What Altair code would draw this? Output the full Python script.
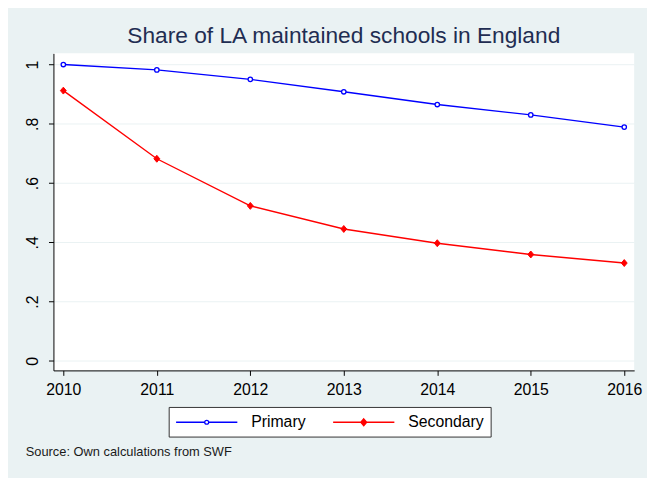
import altair as alt
import pandas as pd

# ---- data ----
years = [2010, 2011, 2012, 2013, 2014, 2015, 2016]
primary = [1.000, 0.982, 0.950, 0.908, 0.865, 0.830, 0.789]
secondary = [0.912, 0.682, 0.523, 0.445, 0.397, 0.359, 0.330]
series = ["Primary", "Secondary"]
colors = ["#0000FF", "#FF0000"]
y_ticks = [0, 0.2, 0.4, 0.6, 0.8, 1.0]
title_text = "Share of LA maintained schools in England"
source_note = "Source: Own calculations from SWF"

rows = []
for yr, v in zip(years, primary):
    rows.append({"year": yr, "share": v, "type": series[0]})
for yr, v in zip(years, secondary):
    rows.append({"year": yr, "share": v, "type": series[1]})
df = pd.DataFrame(rows)

FONT = "Liberation Sans"

x_enc = alt.X("year:Q",
              scale=alt.Scale(domain=[2009.894, 2016.106], nice=False, zero=False),
              axis=alt.Axis(values=years, format="d", grid=False, title=None,
                            labelPadding=6, tickSize=5))
y_enc = alt.Y("share:Q",
              scale=alt.Scale(domain=[-0.0323, 1.0377], nice=False, zero=False),
              axis=alt.Axis(values=y_ticks, grid=True, title=None,
                            labelExpr="datum.value == 0 ? '0' : datum.value == 1 ? '1' : replace(format(datum.value, '.1f'), '0.', '.')",
                            labelAngle=270, labelAlign="center",
                            labelBaseline="alphabetic", labelPadding=11, tickSize=5))

# legend key shapes: a line segment with the series marker in the middle
prim_path = ("M-3.875,0L-0.25,0M0.25,0L3.875,0M-0.25,0A0.25,0.25,0,1,1,0.25,0"
             "A0.25,0.25,0,1,1,-0.25,0Z")
sec_path = "M-3.875,0L3.875,0M0,-0.4375L0.375,0L0,0.4375L-0.375,0Z"
legend_fills = ["white", "#FF0000"]

legend = alt.Legend(
    title=None, orient="none", legendX=116.7, legendY=358,
    direction="horizontal", columns=2,
    fillColor="white", strokeColor="#333333", padding=6.5,
    labelFont=FONT, labelFontSize=16, labelColor="black",
    symbolOffset=23, labelOffset=36,
    columnPadding=24, symbolSize=256, symbolStrokeWidth=1.3, symbolOpacity=1,
)

line_p = alt.Chart(df).transform_filter(alt.datum.type == series[0]).mark_line(
    strokeWidth=1.4, color=colors[0]).encode(x=x_enc, y=y_enc)
line_s = alt.Chart(df).transform_filter(alt.datum.type == series[1]).mark_line(
    strokeWidth=1.4, color=colors[1]).encode(x=x_enc, y=y_enc)

prim_pts = alt.Chart(df).transform_filter(alt.datum.type == series[0]).mark_point(
    shape="circle", size=20, fill="white", stroke=colors[0], strokeWidth=1.3, opacity=1, filled=False
).encode(x=x_enc, y=y_enc)

sec_pts = alt.Chart(df).transform_filter(alt.datum.type == series[1]).mark_point(
    shape="M-0.85,0L0,-1L0.85,0L0,1Z", size=49, fill=colors[1], stroke=colors[1],
    strokeWidth=1, opacity=1, filled=True
).encode(x=x_enc, y=y_enc)

# legend-only layer (draws nothing in the plot, only supplies the legend)
legend_layer = alt.Chart(df).transform_filter("false").mark_point(
    opacity=1, filled=False, strokeWidth=1.3
).encode(
    x=x_enc, y=y_enc,
    color=alt.Color("type:N", scale=alt.Scale(domain=series, range=colors), legend=legend),
    shape=alt.Shape("type:N", scale=alt.Scale(domain=series, range=[prim_path, sec_path]), legend=legend),
    fill=alt.Fill("type:N", scale=alt.Scale(domain=series, range=legend_fills), legend=legend),
)

note = alt.Chart(pd.DataFrame({"note": [source_note]})).mark_text(
    align="left", baseline="alphabetic", font=FONT, fontSize=13, color="#1a1a1a"
).encode(x=alt.value(-28), y=alt.value(407.6), text="note:N")

chart = alt.layer(line_p, line_s, prim_pts, sec_pts, legend_layer, note).properties(
    width=588, height=321,
    autosize=alt.AutoSizeParams(type="none"),
    padding={"left": 46, "top": 43, "right": 13, "bottom": 106},
    title=alt.TitleParams(title_text, font=FONT, fontSize=23, fontWeight="normal",
                          color="#1F2D52", anchor="middle", baseline="alphabetic",
                          offset=7, dy=20),
    background="#EAF2F3",
).configure_view(fill="white", strokeWidth=0).configure_axis(
    domainColor="black", domainWidth=1, tickColor="black", tickWidth=1,
    labelFont=FONT, labelFontSize=16, labelColor="black",
    gridColor="#EAF2F3", gridWidth=1,
)

chart.save("out.html", embed_options={"renderer": "svg", "actions": False})
